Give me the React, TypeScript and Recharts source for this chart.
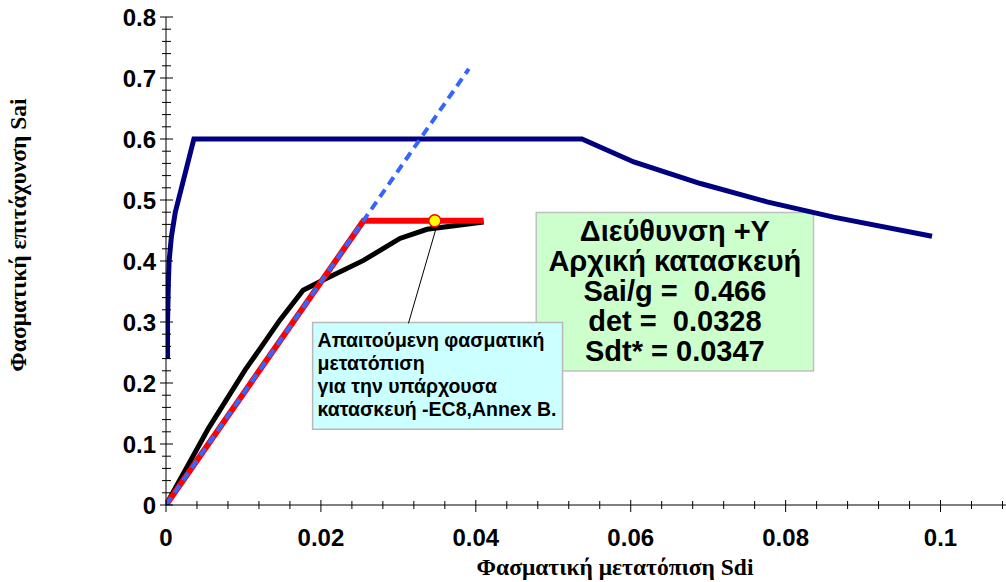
import React from 'react';
import {
  LineChart,
  Line,
  XAxis,
  YAxis,
  ReferenceArea,
  ReferenceLine,
  ReferenceDot,
} from 'recharts';

// ---- Data ----
const demandSpectrum = [
  { x: 0.0002, y: 0.24 },
  { x: 0.0002, y: 0.3 },
  { x: 0.0003, y: 0.36 },
  { x: 0.0004, y: 0.4 },
  { x: 0.0007, y: 0.44 },
  { x: 0.0012, y: 0.48 },
  { x: 0.0036, y: 0.6 },
  { x: 0.0537, y: 0.6 },
  { x: 0.0604, y: 0.5624 },
  { x: 0.069, y: 0.527 },
  { x: 0.0776, y: 0.497 },
  { x: 0.0862, y: 0.472 },
  { x: 0.0989, y: 0.4407 },
];

const capacityCurve = [
  { x: 0, y: 0 },
  { x: 0.0055, y: 0.126 },
  { x: 0.0102, y: 0.221 },
  { x: 0.0147, y: 0.303 },
  { x: 0.0177, y: 0.352 },
  { x: 0.0203, y: 0.369 },
  { x: 0.0255, y: 0.401 },
  { x: 0.0302, y: 0.437 },
  { x: 0.0337, y: 0.452 },
  { x: 0.041, y: 0.464 },
];

const bilinearCurve = [
  { x: 0, y: 0 },
  { x: 0.0255, y: 0.466 },
  { x: 0.041, y: 0.466 },
];

const initialStiffness = [
  { x: 0, y: 0 },
  { x: 0.0391, y: 0.715 },
];

const targetPoint = { x: 0.0347, y: 0.466 };
const leaderStart = { x: 0.0348, y: 0.4505 };
const leaderEnd = { x: 0.0313, y: 0.2977 };

const cyanBox = { x1: 0.01893, x2: 0.0512, y1: 0.124, y2: 0.2993 };
const cyanLines = [
  'Απαιτούμενη φασματική',
  'μετατόπιση',
  'για την υπάρχουσα',
  'κατασκευή -EC8,Annex B.',
];

const greenBox = { x1: 0.0478, x2: 0.0836, y1: 0.2195, y2: 0.4795 };
const greenLines = [
  'Διεύθυνση +Υ',
  'Αρχική κατασκευή',
  'Sai/g =  0.466',
  'det =  0.0328',
  'Sdt* = 0.0347',
];

const xTickValues = [
  0, 0.004, 0.008, 0.012, 0.016, 0.02, 0.024, 0.028, 0.032, 0.036, 0.04,
  0.044, 0.048, 0.052, 0.056, 0.06, 0.064, 0.068, 0.072, 0.076, 0.08,
  0.084, 0.088, 0.092, 0.096, 0.1, 0.104, 0.108,
];
const xMajorTicks = [0, 0.02, 0.04, 0.06, 0.08, 0.1];
const xMajorLabels = ['0', '0.02', '0.04', '0.06', '0.08', '0.1'];

const yTickValues = [
  0, 0.02, 0.04, 0.06, 0.08, 0.1, 0.12, 0.14, 0.16, 0.18, 0.2, 0.22, 0.24,
  0.26, 0.28, 0.3, 0.32, 0.34, 0.36, 0.38, 0.4, 0.42, 0.44, 0.46, 0.48, 0.5,
  0.52, 0.54, 0.56, 0.58, 0.6, 0.62, 0.64, 0.66, 0.68, 0.7, 0.72, 0.74, 0.76,
  0.78, 0.8,
];
const yMajorTicks = [0, 0.1, 0.2, 0.3, 0.4, 0.5, 0.6, 0.7, 0.8];
const yMajorLabels = ['0', '0.1', '0.2', '0.3', '0.4', '0.5', '0.6', '0.7', '0.8'];

const xTitle = 'Φασματική μετατόπιση Sdi';
const yTitle = 'Φασματική επιτάχυνση Sai';

// ---- Styles ----
const SANS = '"Liberation Sans", Arial, sans-serif';
const SERIF = '"Liberation Serif", "Times New Roman", serif';

const findMajor = (list: number[], v: number) =>
  list.findIndex((m) => Math.abs(m - v) < 1e-9);

const XTick = (props: any) => {
  const { x, y, payload } = props;
  const idx = findMajor(xMajorTicks, payload.value);
  const major = idx >= 0;
  return (
    <g>
      <line
        x1={x}
        x2={x}
        y1={y - (major ? 5 : 4)}
        y2={y + (major ? 7 : 4)}
        stroke="#000"
        strokeWidth={1}
      />
      {major && (
        <text
          x={x}
          y={y + 41}
          textAnchor="middle"
          fontFamily={SANS}
          fontWeight="bold"
          fontSize={24}
          fill="#000"
        >
          {xMajorLabels[idx]}
        </text>
      )}
    </g>
  );
};

const YTick = (props: any) => {
  const { x, y, payload } = props;
  const idx = findMajor(yMajorTicks, payload.value);
  const major = idx >= 0;
  return (
    <g>
      <line
        x1={x - (major ? 6 : 4)}
        x2={x + (major ? 7 : 5)}
        y1={y}
        y2={y}
        stroke="#000"
        strokeWidth={1}
      />
      {major && (
        <text
          x={x - 10}
          y={y + 9}
          textAnchor="end"
          fontFamily={SANS}
          fontWeight="bold"
          fontSize={24}
          fill="#000"
        >
          {yMajorLabels[idx]}
        </text>
      )}
    </g>
  );
};

const YTitle = (props: any) => {
  const vb = props.viewBox;
  const cx = vb.x - 48;
  const cy = vb.y + 218;
  return (
    <text
      x={cx}
      y={cy}
      transform={`rotate(-90, ${cx}, ${cy})`}
      textAnchor="middle"
      dominantBaseline="central"
      fontFamily={SERIF}
      fontWeight="bold"
      fontSize={23.5}
      fill="#000"
    >
      {yTitle}
    </text>
  );
};

const XTitle = (props: any) => {
  const vb = props.viewBox;
  return (
    <text
      x={vb.x + 449}
      y={vb.y + 70}
      textAnchor="middle"
      fontFamily={SERIF}
      fontWeight="bold"
      fontSize={23.5}
      fill="#000"
    >
      {xTitle}
    </text>
  );
};

const CyanText = (props: any) => {
  const { x, y } = props.viewBox;
  return (
    <g>
      {cyanLines.map((t, i) => (
        <text
          key={i}
          x={x + 5}
          y={y + 25 + i * 22.7}
          fontFamily={SANS}
          fontWeight="bold"
          fontSize={19.5}
          fill="#000"
          style={{ whiteSpace: 'pre' }}
        >
          {t}
        </text>
      ))}
    </g>
  );
};

const GreenText = (props: any) => {
  const { x, y, width } = props.viewBox;
  return (
    <g>
      {greenLines.map((t, i) => (
        <text
          key={i}
          x={x + width / 2}
          y={y + 28 + i * 30}
          textAnchor="middle"
          fontFamily={SANS}
          fontWeight="bold"
          fontSize={29}
          fill="#000"
          style={{ whiteSpace: 'pre' }}
        >
          {t}
        </text>
      ))}
    </g>
  );
};

export default function App() {
  return (
    <div
      style={{
        position: 'absolute',
        left: 0,
        top: 0,
        width: 1006,
        height: 582,
        overflow: 'hidden',
        background: '#ffffff',
      }}
    >
      <LineChart
        width={1030}
        height={582}
        margin={{ top: 17, right: 12, bottom: 27, left: 66 }}
      >
        <XAxis
          type="number"
          dataKey="x"
          domain={[0, 0.11]}
          allowDataOverflow
          ticks={xTickValues}
          interval={0}
          tick={<XTick />}
          tickLine={false}
          tickSize={0}
          tickMargin={0}
          axisLine={{ stroke: '#000', strokeWidth: 1 }}
          height={50}
          label={XTitle}
        />
        <YAxis
          type="number"
          dataKey="y"
          domain={[0, 0.8]}
          allowDataOverflow
          ticks={yTickValues}
          interval={0}
          tick={<YTick />}
          tickLine={false}
          tickSize={0}
          tickMargin={0}
          axisLine={{ stroke: '#000', strokeWidth: 1 }}
          width={100}
          label={YTitle}
        />
        <ReferenceArea
          x1={greenBox.x1}
          x2={greenBox.x2}
          y1={greenBox.y1}
          y2={greenBox.y2}
          fill="#ccffcc"
          fillOpacity={1}
          stroke="#c0c0c0"
          strokeWidth={1.5}
          label={GreenText}
        />
        <ReferenceArea
          x1={cyanBox.x1}
          x2={cyanBox.x2}
          y1={cyanBox.y1}
          y2={cyanBox.y2}
          fill="#ccffff"
          fillOpacity={1}
          stroke="#b8b8b8"
          strokeWidth={1.5}
          label={CyanText}
        />
        <Line
          data={demandSpectrum}
          dataKey="y"
          type="linear"
          stroke="#000080"
          strokeWidth={5}
          dot={false}
          isAnimationActive={false}
        />
        <Line
          data={capacityCurve}
          dataKey="y"
          type="linear"
          stroke="#000000"
          strokeWidth={5}
          dot={false}
          isAnimationActive={false}
        />
        <Line
          data={bilinearCurve}
          dataKey="y"
          type="linear"
          stroke="#ff0000"
          strokeWidth={6}
          dot={false}
          isAnimationActive={false}
        />
        <Line
          data={initialStiffness}
          dataKey="y"
          type="linear"
          stroke="#3366ff"
          strokeWidth={4}
          strokeDasharray="9 6"
          dot={false}
          isAnimationActive={false}
        />
        <ReferenceLine
          segment={[leaderStart, leaderEnd]}
          stroke="#000"
          strokeWidth={1}
        />
        <ReferenceDot
          x={targetPoint.x}
          y={targetPoint.y}
          r={6}
          fill="#ffff00"
          stroke="#ff0000"
          strokeWidth={1.5}
        />
      </LineChart>
    </div>
  );
}
